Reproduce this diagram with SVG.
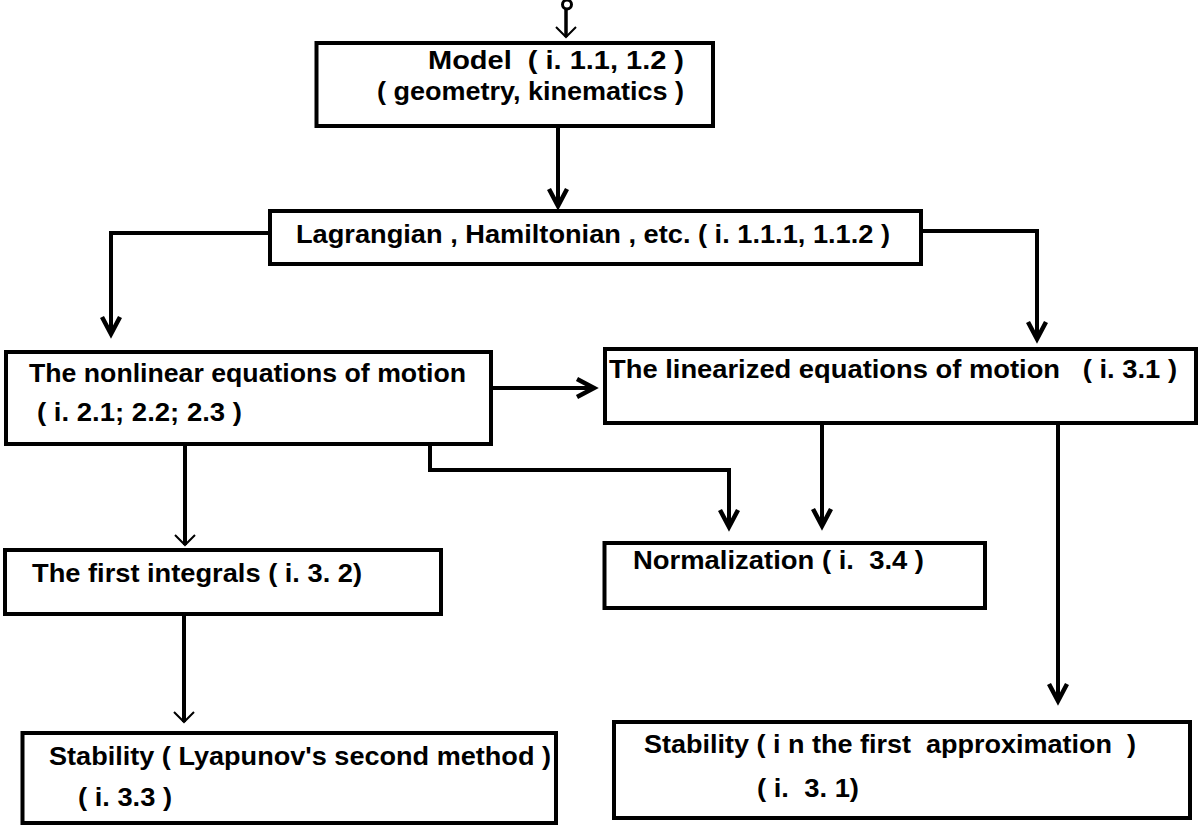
<svg xmlns="http://www.w3.org/2000/svg" width="1198" height="825" viewBox="0 0 1198 825">
<style>
.box{fill:#fff;stroke:#000;stroke-width:4}
.t{font-family:"Liberation Sans",Arial,sans-serif;font-weight:bold;font-size:25px;fill:#000}
.c{fill:none;stroke:#000;stroke-width:4}
.cs{fill:none;stroke:#000;stroke-width:4;marker-end:url(#thick)}
.ct{fill:none;stroke:#000;stroke-width:4;marker-end:url(#thin)}
</style>
<defs>
<marker id="thick" viewBox="-24 -14 28 28" refX="0" refY="0" markerWidth="28" markerHeight="28" markerUnits="userSpaceOnUse" orient="auto" overflow="visible">
<path d="M-18,-9 L-1,0 L-18,9" fill="none" stroke="#000" stroke-width="4.5" stroke-linejoin="miter"/>
<path d="M-9,-4 L0,0 L-9,4 Z" fill="#000"/>
</marker>
<marker id="thin" viewBox="-14 -14 18 28" refX="0" refY="0" markerWidth="18" markerHeight="28" markerUnits="userSpaceOnUse" orient="auto" overflow="visible">
<path d="M-10,-10 L0,0 L-10,10" fill="none" stroke="#000" stroke-width="2"/>
</marker>
</defs>
<rect width="1198" height="825" fill="#fff"/>
<g id="connectors">
<circle cx="567" cy="4.5" r="4.5" fill="none" stroke="#000" stroke-width="3"/>
<path class="ct" d="M566,9 L566,37" style="stroke-width:3.5"/>
<path class="cs" d="M558,126 L558,207"/>
<path class="cs" d="M270,233 L111,233 L111,335"/>
<path class="cs" d="M921,231 L1037,231 L1037,340"/>
<path class="cs" d="M491,388 L595,388"/>
<path class="cs" d="M430,444 L430,470 L729,470 L729,528"/>
<path class="cs" d="M822,423 L822,527"/>
<path class="cs" d="M1058,423 L1058,702"/>
<path class="ct" d="M185,445 L185,545"/>
<path class="ct" d="M184,614 L184,722"/>
</g>
<g id="model">
<rect class="box" x="316.5" y="43" width="396.5" height="83"/>
<text class="t" x="428" y="69" textLength="256" lengthAdjust="spacingAndGlyphs" xml:space="preserve">Model  ( i. 1.1, 1.2 )</text>
<text class="t" x="377" y="100" textLength="307" lengthAdjust="spacingAndGlyphs" xml:space="preserve">( geometry, kinematics )</text>
</g>
<g id="lagrangian">
<rect class="box" x="270" y="211" width="651" height="53"/>
<text class="t" x="296" y="243" textLength="594" lengthAdjust="spacingAndGlyphs" xml:space="preserve">Lagrangian , Hamiltonian , etc. ( i. 1.1.1, 1.1.2 )</text>
</g>
<g id="nonlinear">
<rect class="box" x="6" y="352" width="485" height="92"/>
<text class="t" x="29" y="382" textLength="437" lengthAdjust="spacingAndGlyphs" xml:space="preserve">The nonlinear equations of motion</text>
<text class="t" x="37" y="421" textLength="205" lengthAdjust="spacingAndGlyphs" xml:space="preserve">( i. 2.1; 2.2; 2.3 )</text>
</g>
<g id="linearized">
<rect class="box" x="605" y="349" width="591" height="74"/>
<text class="t" x="609" y="378" textLength="568" lengthAdjust="spacingAndGlyphs" xml:space="preserve">The linearized equations of motion   ( i. 3.1 )</text>
</g>
<g id="first-integrals">
<rect class="box" x="5" y="550" width="436" height="64"/>
<text class="t" x="32" y="582" textLength="330" lengthAdjust="spacingAndGlyphs" xml:space="preserve">The first integrals ( i. 3. 2)</text>
</g>
<g id="normalization">
<rect class="box" x="604.5" y="543" width="380.5" height="65"/>
<text class="t" x="633" y="569" textLength="291" lengthAdjust="spacingAndGlyphs" xml:space="preserve">Normalization ( i.  3.4 )</text>
</g>
<g id="stability-lyapunov">
<rect class="box" x="22.5" y="733" width="533.5" height="90"/>
<text class="t" x="49" y="765" textLength="502" lengthAdjust="spacingAndGlyphs" xml:space="preserve">Stability ( Lyapunov's second method )</text>
<text class="t" x="78" y="806" textLength="94" lengthAdjust="spacingAndGlyphs" xml:space="preserve">( i. 3.3 )</text>
</g>
<g id="stability-first">
<rect class="box" x="614" y="722" width="576" height="96"/>
<text class="t" x="644" y="753" textLength="492" lengthAdjust="spacingAndGlyphs" xml:space="preserve">Stability ( i n the first  approximation  )</text>
<text class="t" x="757" y="797" textLength="102" lengthAdjust="spacingAndGlyphs" xml:space="preserve">( i.  3. 1)</text>
</g>
</svg>
